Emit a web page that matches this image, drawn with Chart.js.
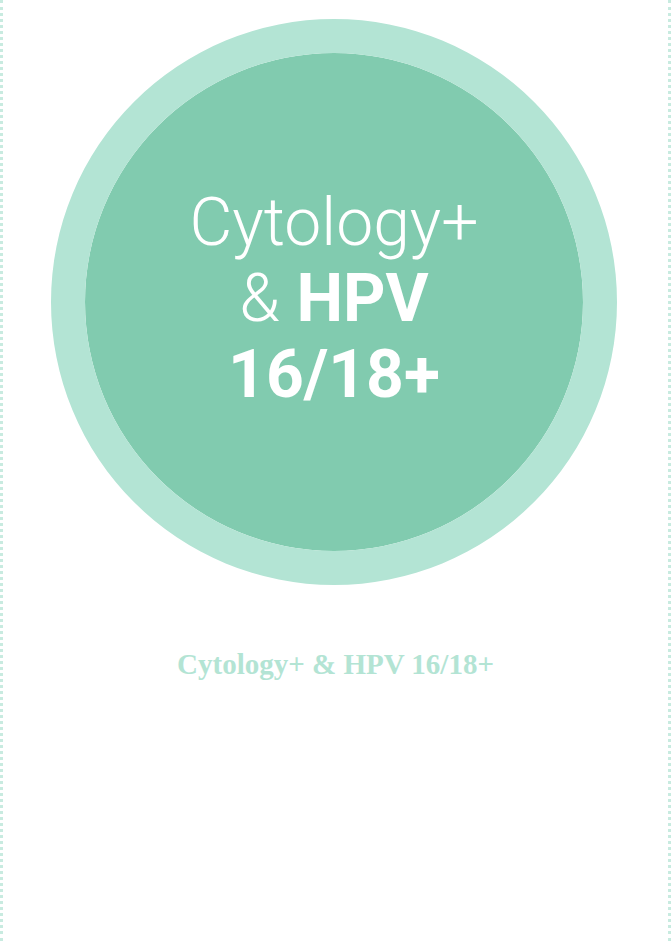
<!DOCTYPE html>
<html>
<head>
<meta charset="utf-8">
<script src="https://cdn.jsdelivr.net/npm/chart.js@4"></script>
<style>
  html, body { margin: 0; padding: 0; background: #fff; }
  #wrap { position: relative; width: 671px; height: 941px; overflow: hidden;
          border-left: 3px dotted #c8ebe0; border-right: 3px dotted #c8ebe0; box-sizing: border-box; }
  #chartBox { position: absolute; left: 48px; top: 19px; width: 566px; height: 566px; }
  #center { position: absolute; left: 48px; top: 185px; width: 566px; text-align: center;
            font-family: Roboto, sans-serif; color: #fff; font-size: 66px; line-height: 76px; }
  #center .light { font-weight: 300; }
  #center b { font-weight: 700; }
  #caption { position: absolute; left: 0; width: 665px; top: 648px; text-align: center;
             font-family: "Liberation Serif", serif; font-weight: bold; font-size: 29px; color: #b3e4d4; }
</style>
</head>
<body>
<div id="wrap">
  <div id="chartBox"><canvas id="ringChart"></canvas></div>
  <div id="center"><span class="light">Cytology+</span><br><span class="light">&amp;</span> <b>HPV</b><br><b>16/18+</b></div>
  <div id="caption">Cytology+ &amp; HPV 16/18+</div>
</div>
<script>
const categories = ['Cytology+ & HPV 16/18+'];
const outerValues = [1];
const innerValues = [1];
const outerColor = '#b3e4d4';
const innerColor = '#81cbaf';

const ctx = document.getElementById('ringChart').getContext('2d');
new Chart(ctx, {
    type: 'doughnut',
    data: {
        labels: categories,
        datasets: [{
            data: outerValues,
            backgroundColor: [outerColor],
            borderWidth: 0,
            weight: 34
        }, {
            data: innerValues,
            backgroundColor: [innerColor],
            borderWidth: 0,
            weight: 249
        }]
    },
    options: {
        animation: false,
        responsive: true,
        maintainAspectRatio: false,
        cutout: 0,
        layout: { padding: 0 },
        plugins: { legend: { display: false }, tooltip: { enabled: false } }
    }
});
</script>
</body>
</html>
